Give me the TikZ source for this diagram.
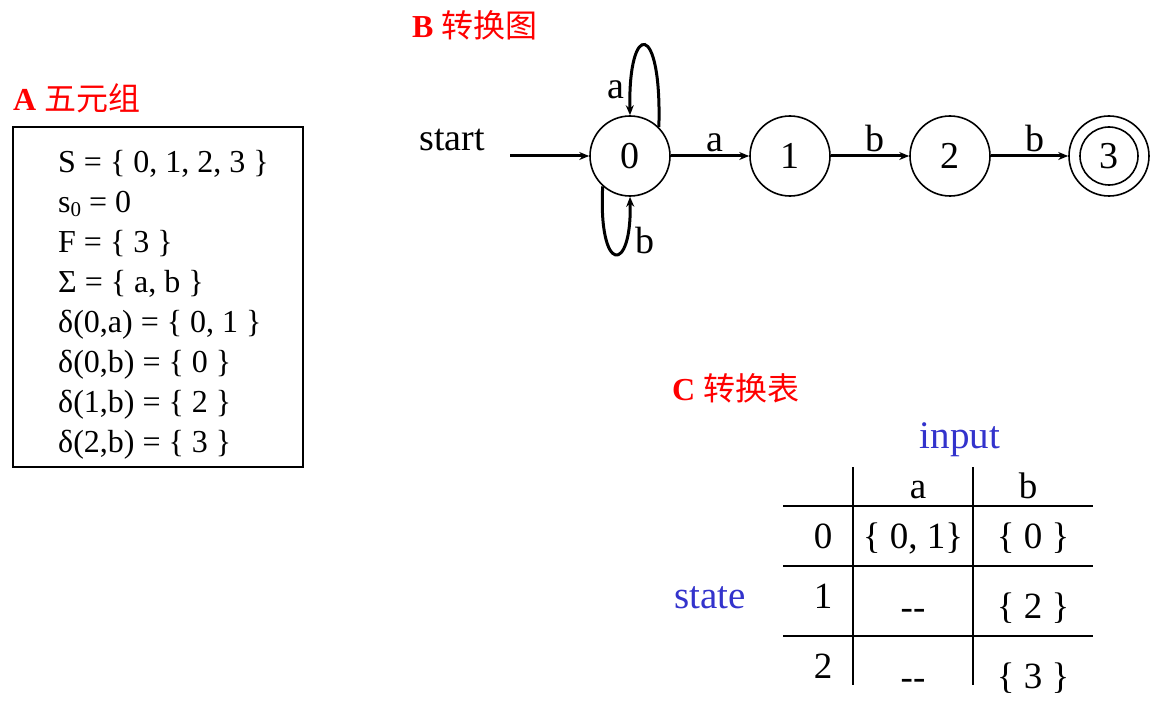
\documentclass[tikz,border=0pt]{standalone}
\usepackage{fontspec}
\setmainfont{Liberation Serif}
\newfontfamily\cjk{Noto Sans CJK SC}
\usetikzlibrary{arrows.meta}
\definecolor{titlered}{RGB}{255,0,0}
\definecolor{lblue}{RGB}{51,51,204}
\begin{document}
\begin{tikzpicture}[x=1pt,y=-1pt,
  state/.style={circle,draw,line width=1.6pt,minimum size=80pt,inner sep=0pt,font=\fontsize{38}{40}\selectfont},
  edge/.style={line width=3pt,-{Stealth[length=10pt,width=8pt]}},
  elabel/.style={font=\fontsize{38}{40}\selectfont,inner sep=3pt},
  title/.style={text=titlered,font=\fontsize{32}{36}\selectfont,anchor=west,inner sep=0pt},
  tuple/.style={font=\fontsize{32}{40}\selectfont,anchor=base west,inner sep=0pt},
  cell/.style={font=\fontsize{37}{40}\selectfont,anchor=base,inner sep=0pt},
  grid/.style={line width=2pt},
  axis/.style={text=lblue,font=\fontsize{39}{40}\selectfont,anchor=base,inner sep=0pt}]
\useasboundingbox (0,0) rectangle (1152,706);

% titles
\node[title] (ta) at (13,98) {{\bfseries A} {\cjk 五元组}};
\node[title] (tb) at (412,25) {{\bfseries B} {\cjk 转换图}};
\node[title] (tc) at (672,388) {{\bfseries C} {\cjk 转换表}};

% A: five-tuple box
\draw[line width=2pt] (13,127) rectangle (303,467);
\node[tuple] (l1) at (58,172) {S = \{ 0, 1, 2, 3 \}};
\node[tuple] (l2) at (58,212) {s\raisebox{-5pt}{\fontsize{21}{21}\selectfont 0} = 0};
\node[tuple] (l3) at (58,252) {F = \{ 3 \}};
\node[tuple] (l4) at (58,292) {Σ = \{ a, b \}};
\node[tuple] (l5) at (58,332) {δ(0,a) = \{ 0, 1 \}};
\node[tuple] (l6) at (58,372) {δ(0,b) = \{ 0 \}};
\node[tuple] (l7) at (58,412) {δ(1,b) = \{ 2 \}};
\node[tuple] (l8) at (58,452) {δ(2,b) = \{ 3 \}};

% B: transition graph
\node[state] (q0) at (630,156) {0};
\node[state] (q1) at (790,156) {1};
\node[state] (q2) at (950,156) {2};
\node[state] (q3) at (1109,156) {3};
\draw[line width=1.6pt] (q3.center) circle (29pt);

\node[elabel,anchor=base,inner sep=0pt] (start) at (452,151) {start};
\coordinate (st) at (510,156);
\draw[edge] (st) -- (q0);
\draw[edge] (q0) -- node[elabel,above,xshift=5pt] {a} (q1);
\draw[edge] (q1) -- node[elabel,above,xshift=5pt] {b} (q2);
\draw[edge] (q2) -- node[elabel,above,xshift=5pt] {b} (q3);
\draw[edge] (q0.45) .. controls (662,20) and (628,20) .. node[elabel,pos=0.9,left,xshift=-2pt] {a} (q0.north);
\draw[edge] (q0.228) .. controls (598,275) and (632,275) .. node[elabel,pos=0.75,right,xshift=5pt] {b} (q0.south);

% C: transition table
\draw[grid] (853,467) -- (853,685);
\draw[grid] (973,467) -- (973,685);
\draw[grid] (783,506) -- (1093,506);
\draw[grid] (783,566) -- (1093,566);
\draw[grid] (783,636) -- (1093,636);

\node[axis] (input) at (960,448) {input};
\node[axis] (statel) at (710,608) {state};
\node[cell] (ha) at (918,498) {a};
\node[cell] (hb) at (1028,498) {b};
\node[cell] (r0) at (823,548) {0};
\node[cell] (r0a) at (913,548) {\{ 0, 1\}};
\node[cell] (r0b) at (1033,548) {\{ 0 \}};
\node[cell] (r1) at (823,608) {1};
\node[cell] (r1a) at (913,619) {-{}-};
\node[cell] (r1b) at (1033,618) {\{ 2 \}};
\node[cell] (r2) at (823,678) {2};
\node[cell] (r2a) at (913,689) {-{}-};
\node[cell] (r2b) at (1033,688) {\{ 3 \}};
\end{tikzpicture}
\end{document}
